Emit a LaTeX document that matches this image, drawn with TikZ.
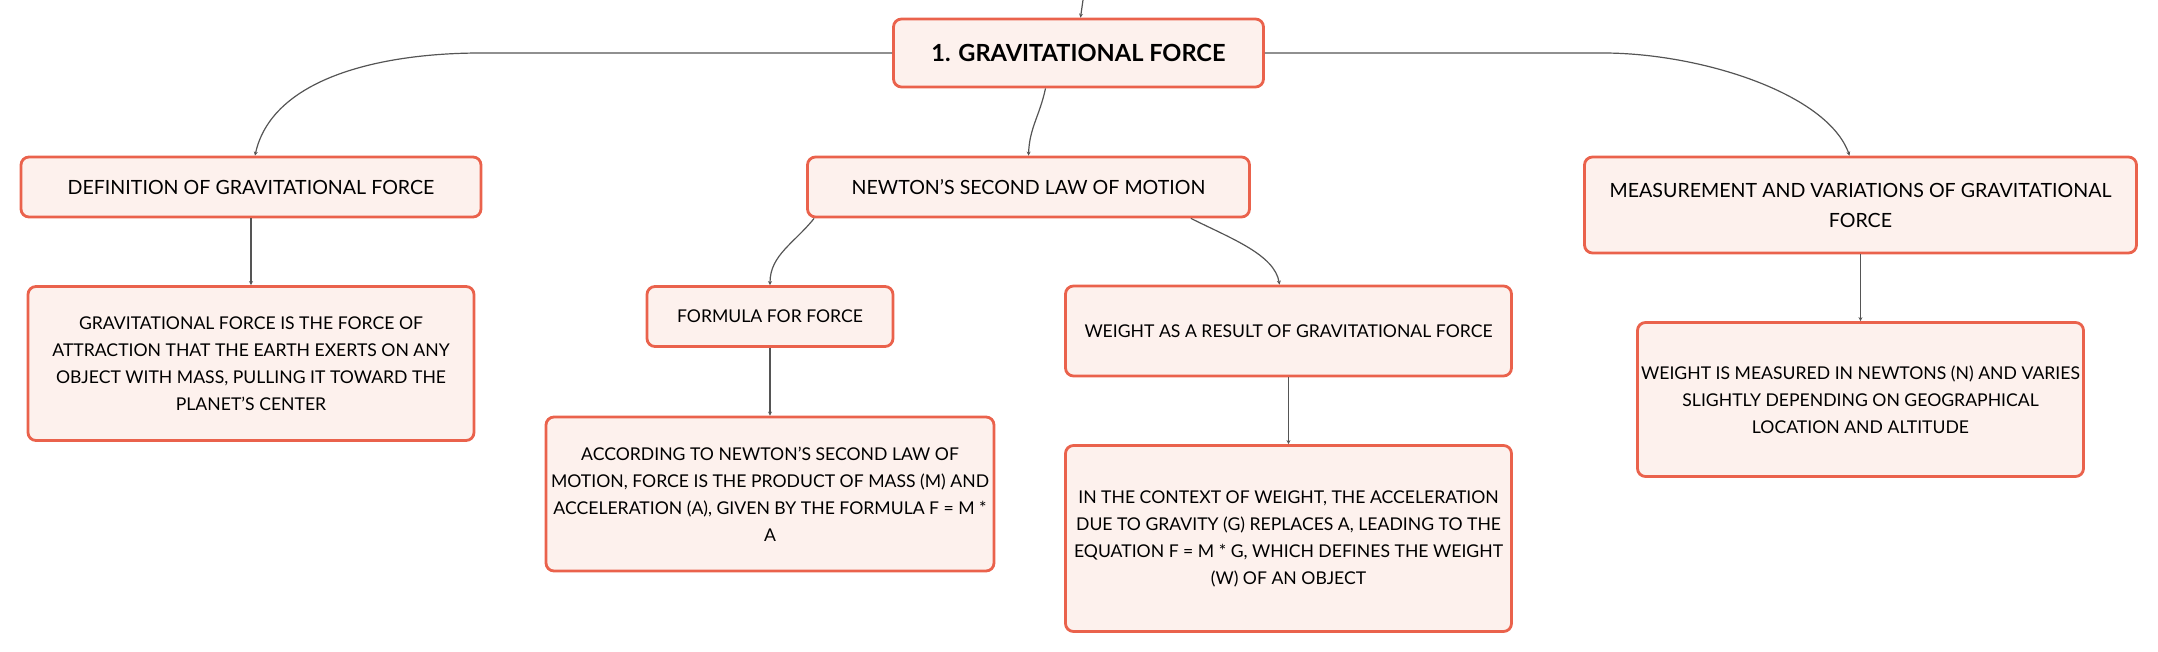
\documentclass[tikz,border=0pt]{standalone}
\usepackage{fontspec}
\setmainfont{Lato}
\usepackage{tikz}
\usetikzlibrary{arrows.meta,positioning}

\definecolor{boxline}{RGB}{234,98,76}
\definecolor{boxfill}{RGB}{253,241,237}
\definecolor{linkgray}{RGB}{85,85,85}

\begin{document}
\begin{tikzpicture}[x=0.5pt, y=-0.5pt,
  box/.style={rectangle, rounded corners=4pt, draw=boxline, fill=boxfill, line width=1.4pt, align=center, inner xsep=1pt, inner ysep=2pt},
  head/.style={box, font=\fontsize{9.8}{15}\selectfont},
  leaf/.style={box, font=\fontsize{8.8}{13.5}\selectfont},
  link/.style={draw=linkgray, line width=0.6pt, -{Stealth[length=2pt,width=2pt]}}]

\useasboundingbox (0,0) rectangle (2158,652);

% Root

\node (root) at (1078.5,53) [box, minimum width=185pt, minimum height=34pt, font=\fontsize{11.8}{14}\selectfont\bfseries] {1. GRAVITATIONAL FORCE};
\coordinate (up) at (1083,0);
\draw[link] (up) -- ([xshift=1pt]root.north);

% Second level

\node (def) at (251,187) [head, minimum width=230pt, minimum height=30pt] {DEFINITION OF GRAVITATIONAL FORCE};
\node (newton) at (1028.5,187) [head, minimum width=221pt, minimum height=30pt] {NEWTON’S SECOND LAW OF MOTION};
\node (meas) at (1860.5,205) [head, minimum width=276pt, minimum height=48pt] {MEASUREMENT AND VARIATIONS OF GRAVITATIONAL\\FORCE};

\draw[link] (root.west) -- ++(-411,0) .. controls +(-102,0) and +(17,-77) .. ([xshift=2pt]def.north);
\draw[link] ([xshift=-16.5pt]root.south) .. controls +(-6,28) and +(1,-28) .. (newton.north);
\draw[link] (root.east) -- ++(338,0) .. controls +(98,0) and +(-22,-62) .. ([xshift=-5.5pt]meas.north);

% Third level

\node (formula) at (770,316.5) [leaf, minimum width=123pt, minimum height=30pt] {FORMULA FOR FORCE};
\node (result) at (1288.5,331) [leaf, minimum width=223pt, minimum height=45pt] {WEIGHT AS A RESULT OF GRAVITATIONAL FORCE};

\draw[link] ([xshift=4pt]newton.south west) .. controls +(-20,25) and +(0,-30) .. (formula.north);
\draw[link] ([xshift=-30pt]newton.south east) .. controls +(40,20) and +(-5,-30) .. ([xshift=-4.5pt]result.north);

% Leaves

\node (gravtext) at (251,363.5) [leaf, minimum width=223pt, minimum height=77pt] {GRAVITATIONAL FORCE IS THE FORCE OF\\ATTRACTION THAT THE EARTH EXERTS ON ANY\\OBJECT WITH MASS, PULLING IT TOWARD THE\\PLANET’S CENTER};
\node (lawtext) at (770,494) [leaf, minimum width=224pt, minimum height=77pt] {ACCORDING TO NEWTON’S SECOND LAW OF\\MOTION, FORCE IS THE PRODUCT OF MASS (M) AND\\ACCELERATION (A), GIVEN BY THE FORMULA F = M *\\A};
\node (weighttext) at (1288.5,538.5) [leaf, minimum width=223pt, minimum height=93pt] {IN THE CONTEXT OF WEIGHT, THE ACCELERATION\\DUE TO GRAVITY (G) REPLACES A, LEADING TO THE\\EQUATION F = M * G, WHICH DEFINES THE WEIGHT\\(W) OF AN OBJECT};
\node (meastext) at (1860.5,399.5) [leaf, minimum width=223pt, minimum height=77pt] {WEIGHT IS MEASURED IN NEWTONS (N) AND VARIES\\SLIGHTLY DEPENDING ON GEOGRAPHICAL\\LOCATION AND ALTITUDE};

\draw[link] (def) -- (gravtext);
\draw[link] (formula) -- (lawtext);
\draw[link] (result) -- (weighttext);
\draw[link] (meas) -- (meastext);

\end{tikzpicture}
\end{document}
